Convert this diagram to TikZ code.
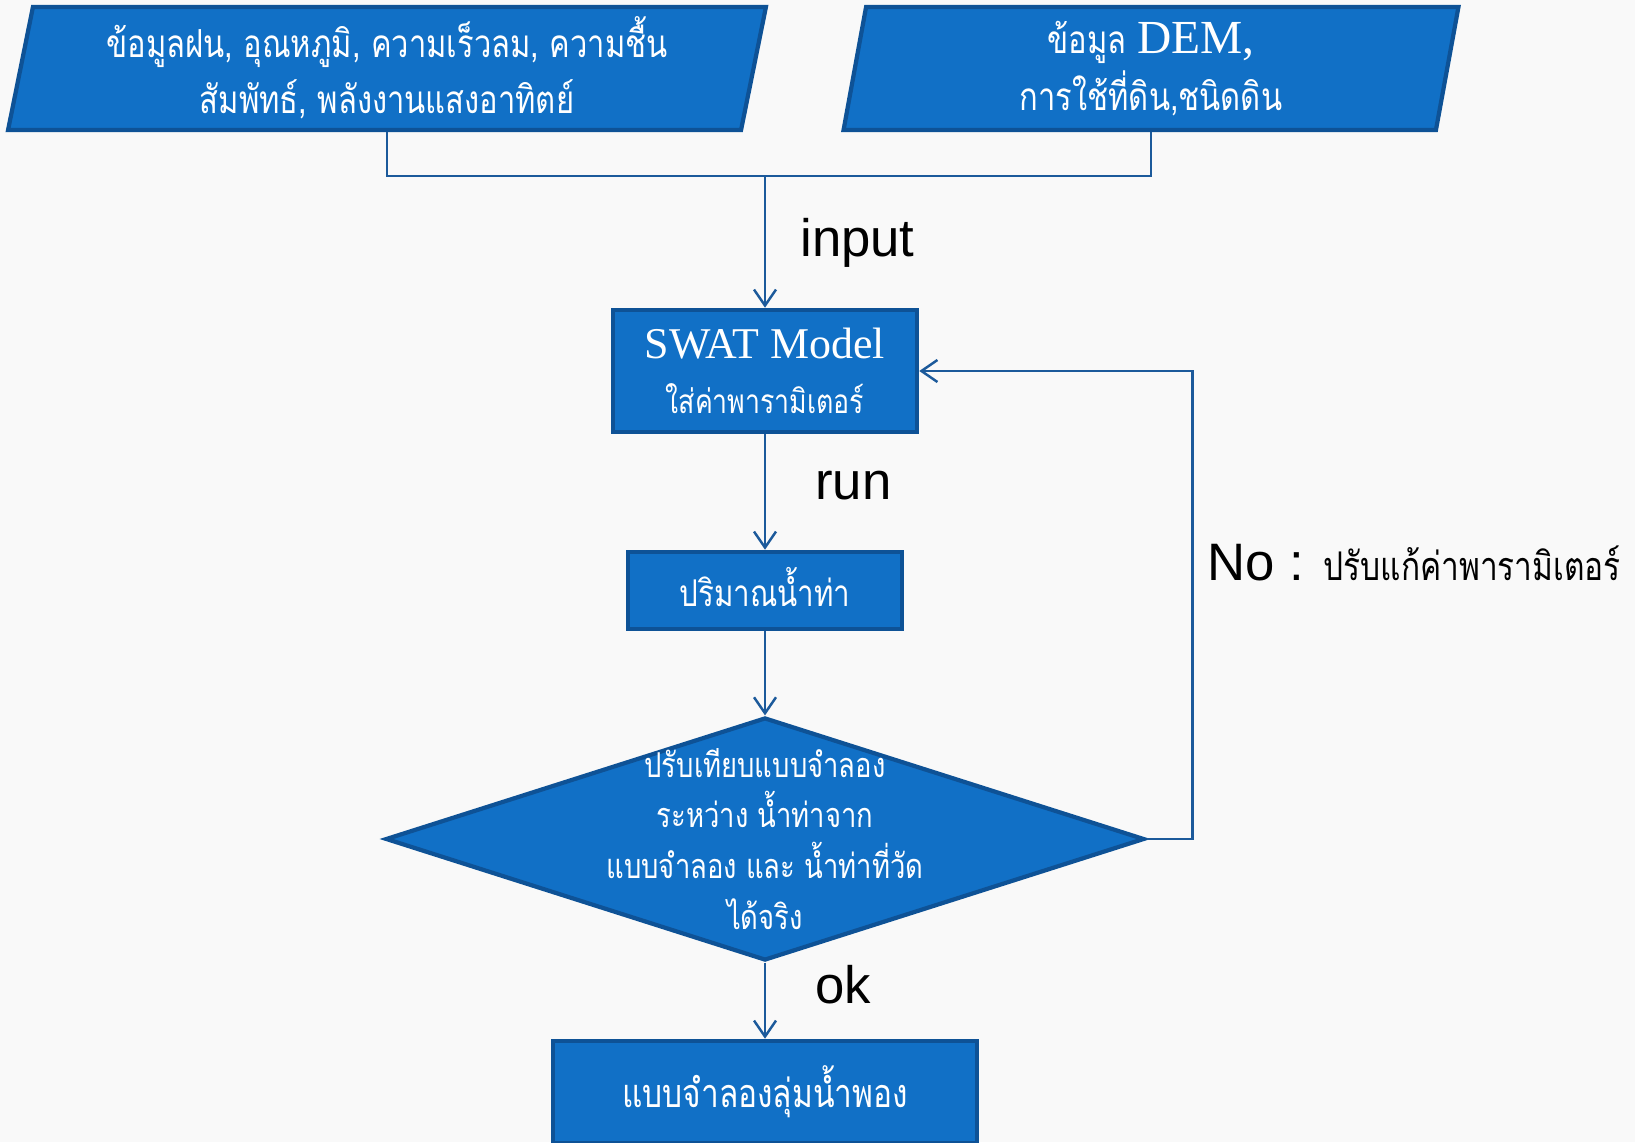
\documentclass[tikz,border=0pt]{standalone}
\usepackage{fontspec}
\setmainfont{Liberation Serif}
\setsansfont{Liberation Sans}
\newfontfamily\thaifont[Script=Thai,FakeStretch=0.8]{Loma}
\usetikzlibrary{arrows.meta,positioning,shapes.geometric}
\definecolor{boxblue}{RGB}{17,112,198}
\definecolor{edgeblue}{RGB}{14,82,150}
\definecolor{lineblue}{RGB}{28,90,155}
\definecolor{paper}{RGB}{249,249,249}
\tikzset{
  inbox/.style={trapezium, trapezium stretches body, trapezium left angle=77, trapezium right angle=103, draw=edgeblue, fill=boxblue, line width=2.4pt, text=white, align=center, inner sep=1pt},
  procbox/.style={rectangle, draw=edgeblue, fill=boxblue, line width=2.6pt, text=white, align=center, inner sep=1pt},
  decision/.style={diamond, draw=edgeblue, fill=boxblue, line width=2.4pt, inner sep=0pt},
  conn/.style={draw=lineblue, line width=1.4pt},
  arrow/.style={conn, -{Straight Barb[length=3.2mm,width=4.4mm]}},
  flowlbl/.style={font=\sffamily\fontsize{30}{34}\selectfont, text=black, inner sep=0pt}
}

\begin{document}
\begin{tikzpicture}[x=0.02cm, y=-0.02cm]
% page
\fill[paper] (0,0) rectangle (1635,1142);
\useasboundingbox (0,0) rectangle (1635,1142);
% input data
\node[inbox, minimum width=15.16cm, minimum height=2.46cm, font=\thaifont\fontsize{22}{32}\selectfont] (climate) at (387,68.5)
  {\raisebox{4pt}{ข้อมูลฝน, อุณหภูมิ, ความเร็วลม, ความชื้น}\\\raisebox{4pt}{สัมพัทธ์, พลังงานแสงอาทิตย์}};
\node[inbox, minimum width=12.30cm, minimum height=2.46cm, font=\thaifont\fontsize{22}{32}\selectfont] (dem) at (1151,68.5)
  {\raisebox{3pt}{ข้อมูล {\rmfamily\fontsize{27}{29}\selectfont DEM,}}\\\raisebox{3pt}{การใช้ที่ดิน,ชนิดดิน}};
% model and steps
\node[procbox, minimum width=6.08cm, minimum height=2.44cm] (swat) at (765,371)
  {\raisebox{3pt}{\rmfamily\fontsize{25}{28}\selectfont SWAT Model}\\[10pt]{\thaifont\fontsize{19}{22}\selectfont ใส่ค่าพารามิเตอร์}};
\node[procbox, minimum width=5.48cm, minimum height=1.54cm, font=\thaifont\fontsize{21}{24}\selectfont] (flow) at (765,590.5) {\raisebox{4pt}{ปริมาณน้ำท่า}};
\node[decision, minimum width=15.18cm, minimum height=4.86cm] (calib) at (765,839) {};
\node[text=white, align=center, inner sep=0pt, font=\thaifont\fontsize{19.5}{29}\selectfont] (calibtxt) at (calib.center)
  {ปรับเทียบแบบจำลอง\\ระหว่าง น้ำท่าจาก\\แบบจำลอง และ น้ำท่าที่วัด\\ได้จริง};
\node[procbox, minimum width=8.48cm, minimum height=2.04cm, font=\thaifont\fontsize{22.5}{26}\selectfont] (basin) at (765,1092) {\raisebox{3pt}{แบบจำลองลุ่มน้ำพอง}};
% connectors
\coordinate (join) at (765,176);
\draw[conn] (climate.south) |- (join) -| (dem.south);
\draw[arrow] (join) -- (swat.north);
\draw[arrow] (swat.south) -- (flow.north);
\draw[arrow] (flow.south) -- (calib.north);
\draw[arrow] (calib.south) -- (basin.north);
\draw[arrow] (calib.east) -- ++(46,0) |- (swat.east);
% labels
\node[flowlbl, anchor=west] (inputlbl) at (800,243) {input};
\node[flowlbl, anchor=west] (runlbl) at (815,486) {run};
\node[flowlbl, anchor=west] (oklbl) at (815,985) {ok};
\node[flowlbl, anchor=west] (nolbl) at (1207,563) {No : {\thaifont\fontsize{22.5}{26}\selectfont ปรับแก้ค่าพารามิเตอร์}};
\end{tikzpicture}
\end{document}
